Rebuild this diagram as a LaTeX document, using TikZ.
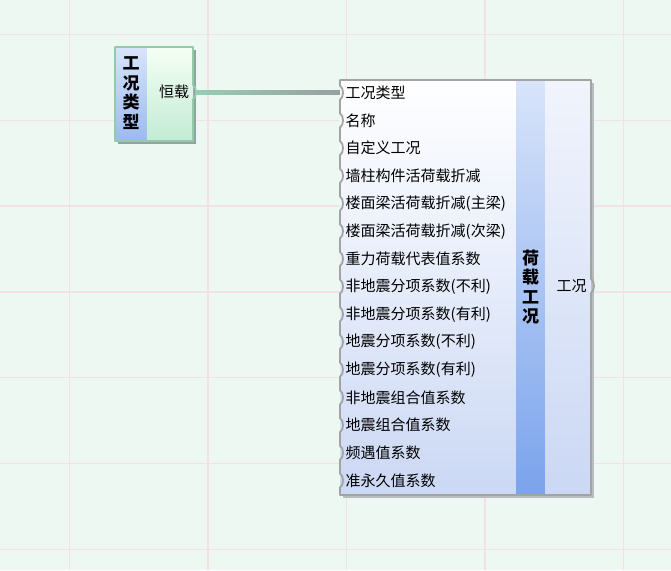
\documentclass[tikz,border=0pt]{standalone}
\usepackage{fontspec}
\setmainfont{Noto Sans CJK SC}
\usetikzlibrary{calc}

\definecolor{bgmint}{RGB}{237,248,242}
\definecolor{gridpink}{RGB}{242,226,229}
\definecolor{tygreen}{RGB}{145,203,170}
\definecolor{tyshadow}{RGB}{150,160,165}
\definecolor{lxgrey}{RGB}{163,163,163}
\definecolor{lxshadow}{RGB}{185,188,190}
\definecolor{stripblue}{RGB}{122,163,236}
\definecolor{striplight}{RGB}{216,228,250}
\definecolor{listblue}{RGB}{203,216,244}

\tikzset{
  rowtext/.style={anchor=west, inner sep=0pt, font=\fontsize{15}{17}\selectfont},
  titletext/.style={align=center, inner sep=0pt, font=\fontsize{17}{19.5}\selectfont\bfseries},
  gridline/.style={line width=1.4pt, color=gridpink},
  lxline/.style={line width=1.8pt, color=lxgrey, line join=round},
  tyline/.style={line width=1.8pt, color=tygreen, line join=round}
}

\begin{document}
\begin{tikzpicture}[x=1pt, y=-1pt]
			%%%%% START %%%%%
			\useasboundingbox (0, 0) rectangle (671, 570);
			\fill[bgmint] (0, 0) rectangle (671, 570);
			
			\foreach \i in {0,...,4}
				\draw[gridline] ({69.7+138.4*\i}, 0) -- ({69.7+138.4*\i}, 570);
			\foreach \i in {0,...,6}
				\draw[gridline] (0, {34.5+85.8*\i}) -- (671, {34.5+85.8*\i});
			
			% small box
			\fill[tyshadow] (118, 50) rectangle (196, 144);
			\shade[top color=striplight, bottom color=stripblue!75] (115, 47) rectangle (147, 141);
			\shade[top color=green!4!white, bottom color={rgb,255:red,195;green,235;blue,212}] (147, 47) rectangle (193, 141);
			\draw[tyline] (193, 99) -- (193, 141) -- (115, 141) -- (115, 47) -- (193, 47) -- (193, 85)
				.. controls (197, 87) and (197, 97) .. (193, 99);
			\node[titletext] (tytitle) at (131, 93) {工\\况\\类\\型};
			\node[rowtext, anchor=center] (hz) at (174, 92) {恒载};
			\coordinate (hzport) at (196, 92);
			
			% big box
			\fill[lxshadow] (343, 83) rectangle (594, 498);
			\shade[top color=white, bottom color=listblue] (340, 80) rectangle (516, 495);
			\shade[top color=striplight, bottom color=stripblue] (516, 80) rectangle (545, 495);
			\shade[top color={rgb,255:red,241;green,244;blue,252}, bottom color=listblue] (545, 80) rectangle (591, 495);
			\draw[lxline] (591, 80) -- (340, 80)
				\foreach \i in {0,...,14} { -- (340, {85.7+27.7*\i})
				.. controls (344, {87.7+27.7*\i}) and (344, {97.7+27.7*\i}) .. (340, {99.7+27.7*\i}) }
				-- (340, 495) -- (591, 495) -- (591, 293)
				.. controls (595, 291) and (595, 281) .. (591, 279) -- cycle;
			
			\foreach \t [count=\i] in {工况类型, 名称, 自定义工况, 墙柱构件活荷载折减,
				楼面梁活荷载折减(主梁), 楼面梁活荷载折减(次梁), 重力荷载代表值系数,
				非地震分项系数(不利), 非地震分项系数(有利), 地震分项系数(不利),
				地震分项系数(有利), 非地震组合值系数, 地震组合值系数, 频遇值系数, 准永久值系数}
				\node[rowtext] (row\i) at (345.5, {92.7+27.7*(\i-1)}) {\t};
			\node[titletext] (lxtitle) at (530.5, 287) {荷\\载\\工\\况};
			\node[rowtext, anchor=center] (gk) at (571.5, 286) {工况};
			\coordinate (row1port) at (340, 92.7);
			
			% connector
			\shade[left color={rgb,255:red,150;green,205;blue,180}, right color={rgb,255:red,150;green,160;blue,160}]
				($(hzport)+(0, -1.3)$) rectangle ($(row1port)+(0, 1.3)$);
			%%%%% END %%%%%
\end{tikzpicture}
\end{document}
